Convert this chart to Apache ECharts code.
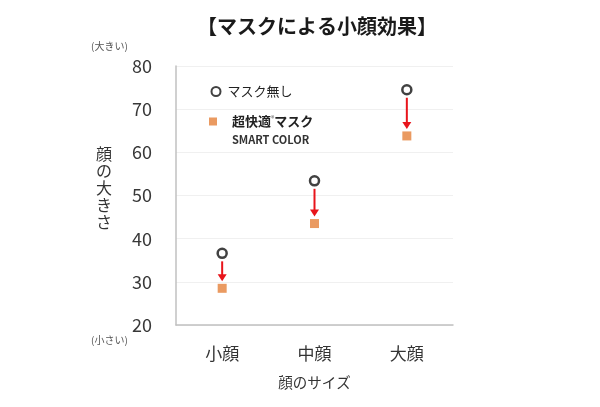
<!DOCTYPE html>
<html><head><meta charset="utf-8">
<script src="https://cdn.jsdelivr.net/npm/echarts@6/dist/echarts.min.js"></script>
<style>html,body{margin:0;padding:0;background:#fff}#c{width:600px;height:407px}</style>
</head><body><div id="c"></div>
<script>
const categories = ['小顔', '中顔', '大顔'];
const noMask = [36.6, 53.4, 74.5];
const smartColor = [28.5, 43.5, 63.8];
const yTicks = [20, 30, 40, 50, 60, 70, 80];

const chart = echarts.init(document.getElementById('c'));
const font = '"Noto Sans CJK JP", "Noto Sans", sans-serif';
chart.setOption({
  animation: false,
  textStyle: { fontFamily: font },
  title: {
    text: '【マスクによる小顔効果】', left: 312, textAlign: 'center', top: 11,
    textStyle: { fontSize: 20, fontWeight: 'bold', color: '#1a1a1a', fontFamily: font }
  },
  grid: { left: 176, right: 147, top: 66, bottom: 82 },
  legend: [
    {
      left: 205.5, top: 80, itemWidth: 9, itemHeight: 9,
      data: ['マスク無し'],
      textStyle: { fontSize: 13, color: '#222', fontFamily: font, padding: [0, 0, 0, 2] }
    },
    {
      left: 204, top: 110, itemWidth: 8, itemHeight: 8,
      data: ['超快適'],
      textStyle: { fontFamily: font, padding: [0, 0, 0, 10], rich: {
        a: { fontSize: 13, fontWeight: 'bold', color: '#222', fontFamily: font },
        b: { fontSize: 7, color: '#555', verticalAlign: 'top', fontFamily: font } } },
      formatter: () => '{a|超快適}{b|®}{a|マスク}'
    }
  ],
  xAxis: {
    type: 'category', data: categories,
    name: '顔のサイズ', nameLocation: 'middle', nameGap: 50,
    nameTextStyle: { fontSize: 14.5, color: '#333' },
    axisLine: { lineStyle: { color: '#c0c0c0', width: 1.5 } },
    axisTick: { show: false },
    axisLabel: { fontSize: 17, color: '#333', margin: 20 }
  },
  yAxis: {
    type: 'value', min: 20, max: 80, interval: 10,
    axisLine: { show: true, lineStyle: { color: '#c0c0c0', width: 1.5 } },
    axisTick: { show: false },
    splitLine: { lineStyle: { color: '#f0f0f0' } },
    axisLabel: { fontSize: 18, color: '#383838', margin: 24,
      formatter: v => yTicks.includes(v) ? String(v) : '' }
  },
  graphic: [
    { type: 'text', left: 91, top: 41, style: { text: '(大きい)', fill: '#555', font: '10px ' + font } },
    { type: 'text', left: 91, top: 335, style: { text: '(小さい)', fill: '#555', font: '10px ' + font } },
    { type: 'text', left: 96, top: 145, style: { text: '顔\nの\n大\nき\nさ', fill: '#333', font: '16px ' + font, lineHeight: 17 } },
    { type: 'text', left: 232, top: 134, style: { text: 'SMART COLOR', fill: '#333', font: 'bold 11px ' + font } }
  ],
  series: [
    {
      name: 'arrows', type: 'custom', silent: true, z: 1,
      data: categories.map((c, i) => [i, noMask[i], smartColor[i]]),
      renderItem: function (params, api) {
        const p1 = api.coord([api.value(0), api.value(1)]);
        const p2 = api.coord([api.value(0), api.value(2)]);
        const x = p1[0], y1 = p1[1] + 8, y2 = p2[1] - 7;
        return { type: 'group', children: [
          { type: 'line', shape: { x1: x, y1: y1, x2: x, y2: y2 - 5 }, style: { stroke: '#e8141b', lineWidth: 2 } },
          { type: 'polygon', shape: { points: [[x - 4.5, y2 - 7], [x + 4.5, y2 - 7], [x, y2]] }, style: { fill: '#e8141b' } }
        ] };
      }
    },
    {
      name: 'マスク無し', type: 'scatter', data: noMask, symbol: 'circle', symbolSize: 9,
      itemStyle: { color: '#fff', borderColor: '#111', borderWidth: 2.5 }, z: 3
    },
    {
      name: '超快適', type: 'scatter', data: smartColor, symbol: 'rect', symbolSize: 9,
      itemStyle: { color: '#e5813a' }, z: 3
    }
  ]
});
</script></body></html>
